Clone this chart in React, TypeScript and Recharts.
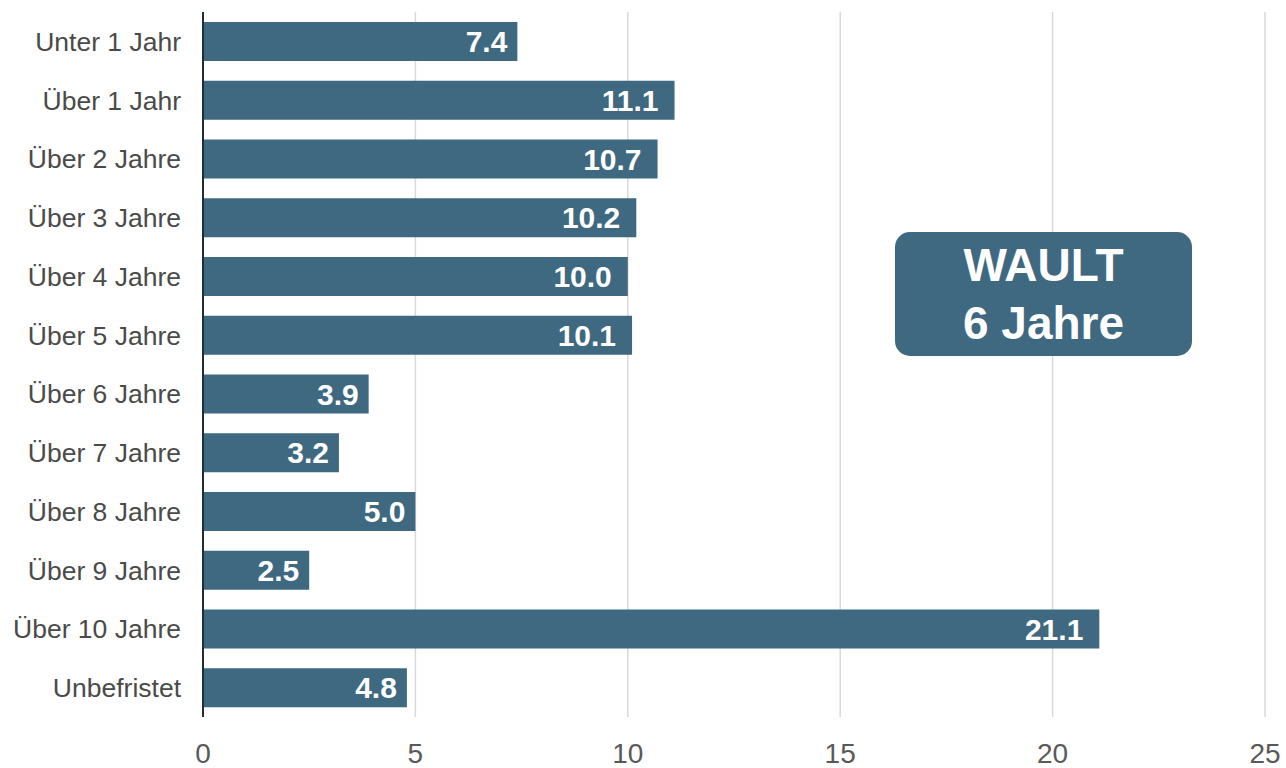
import { BarChart, Bar, XAxis, YAxis, CartesianGrid, LabelList } from 'recharts';

const categories = [
  'Unter 1 Jahr',
  'Über 1 Jahr',
  'Über 2 Jahre',
  'Über 3 Jahre',
  'Über 4 Jahre',
  'Über 5 Jahre',
  'Über 6 Jahre',
  'Über 7 Jahre',
  'Über 8 Jahre',
  'Über 9 Jahre',
  'Über 10 Jahre',
  'Unbefristet',
];
const shares = [7.4, 11.1, 10.7, 10.2, 10.0, 10.1, 3.9, 3.2, 5.0, 2.5, 21.1, 4.8];
const xTicks = [0, 5, 10, 15, 20, 25];

const BAR_COLOR = '#3f6881';
const FONT = '"Liberation Sans", Arial, sans-serif';

const data = categories.map((name, i) => ({ name, value: shares[i] }));

function ValueLabel(props: any) {
  const { x, y, width, height, value } = props;
  const text = Number(value).toFixed(1);
  const pad = text.length > 3 ? 16 : 10;
  return (
    <text
      x={x + width - pad}
      y={y + height / 2}
      textAnchor="end"
      dominantBaseline="central"
      fill="#ffffff"
      fontWeight="bold"
      fontSize={30}
      fontFamily={FONT}
    >
      {text}
    </text>
  );
}

export default function App() {
  return (
    <div style={{ position: 'absolute', left: 0, top: 0, width: 1286, height: 768, background: '#fff' }}>
      <BarChart
        width={1286}
        height={768}
        data={data}
        layout="vertical"
        margin={{ top: 12, right: 21, left: 0, bottom: 11 }}
        barSize={39}
      >
        <CartesianGrid horizontal={false} stroke="#d9d9d9" strokeWidth={1.5} />
        <XAxis
          type="number"
          domain={[0, 25]}
          ticks={xTicks}
          axisLine={false}
          tickLine={false}
          tickSize={0}
          tickMargin={26}
          height={40}
          tick={{ fill: '#595959', fontSize: 28, fontFamily: FONT }}
        />
        <YAxis
          type="category"
          dataKey="name"
          width={203}
          axisLine={{ stroke: '#1f2d36', strokeWidth: 2 }}
          tickLine={false}
          tickSize={0}
          tickMargin={22}
          interval={0}
          tick={{ fill: '#4a4a4a', fontSize: 26.5, fontFamily: FONT }}
        />
        <Bar dataKey="value" fill={BAR_COLOR} isAnimationActive={false}>
          <LabelList dataKey="value" content={ValueLabel} />
        </Bar>
      </BarChart>
      <div
        style={{
          position: 'absolute',
          left: 895,
          top: 232,
          width: 297,
          height: 124,
          borderRadius: 15,
          background: BAR_COLOR,
          color: '#fff',
          fontFamily: FONT,
          fontWeight: 'bold',
          fontSize: 46,
          lineHeight: '58px',
          textAlign: 'center',
          display: 'flex',
          flexDirection: 'column',
          justifyContent: 'center',
        }}
      >
        <div>WAULT</div>
        <div>6 Jahre</div>
      </div>
    </div>
  );
}
